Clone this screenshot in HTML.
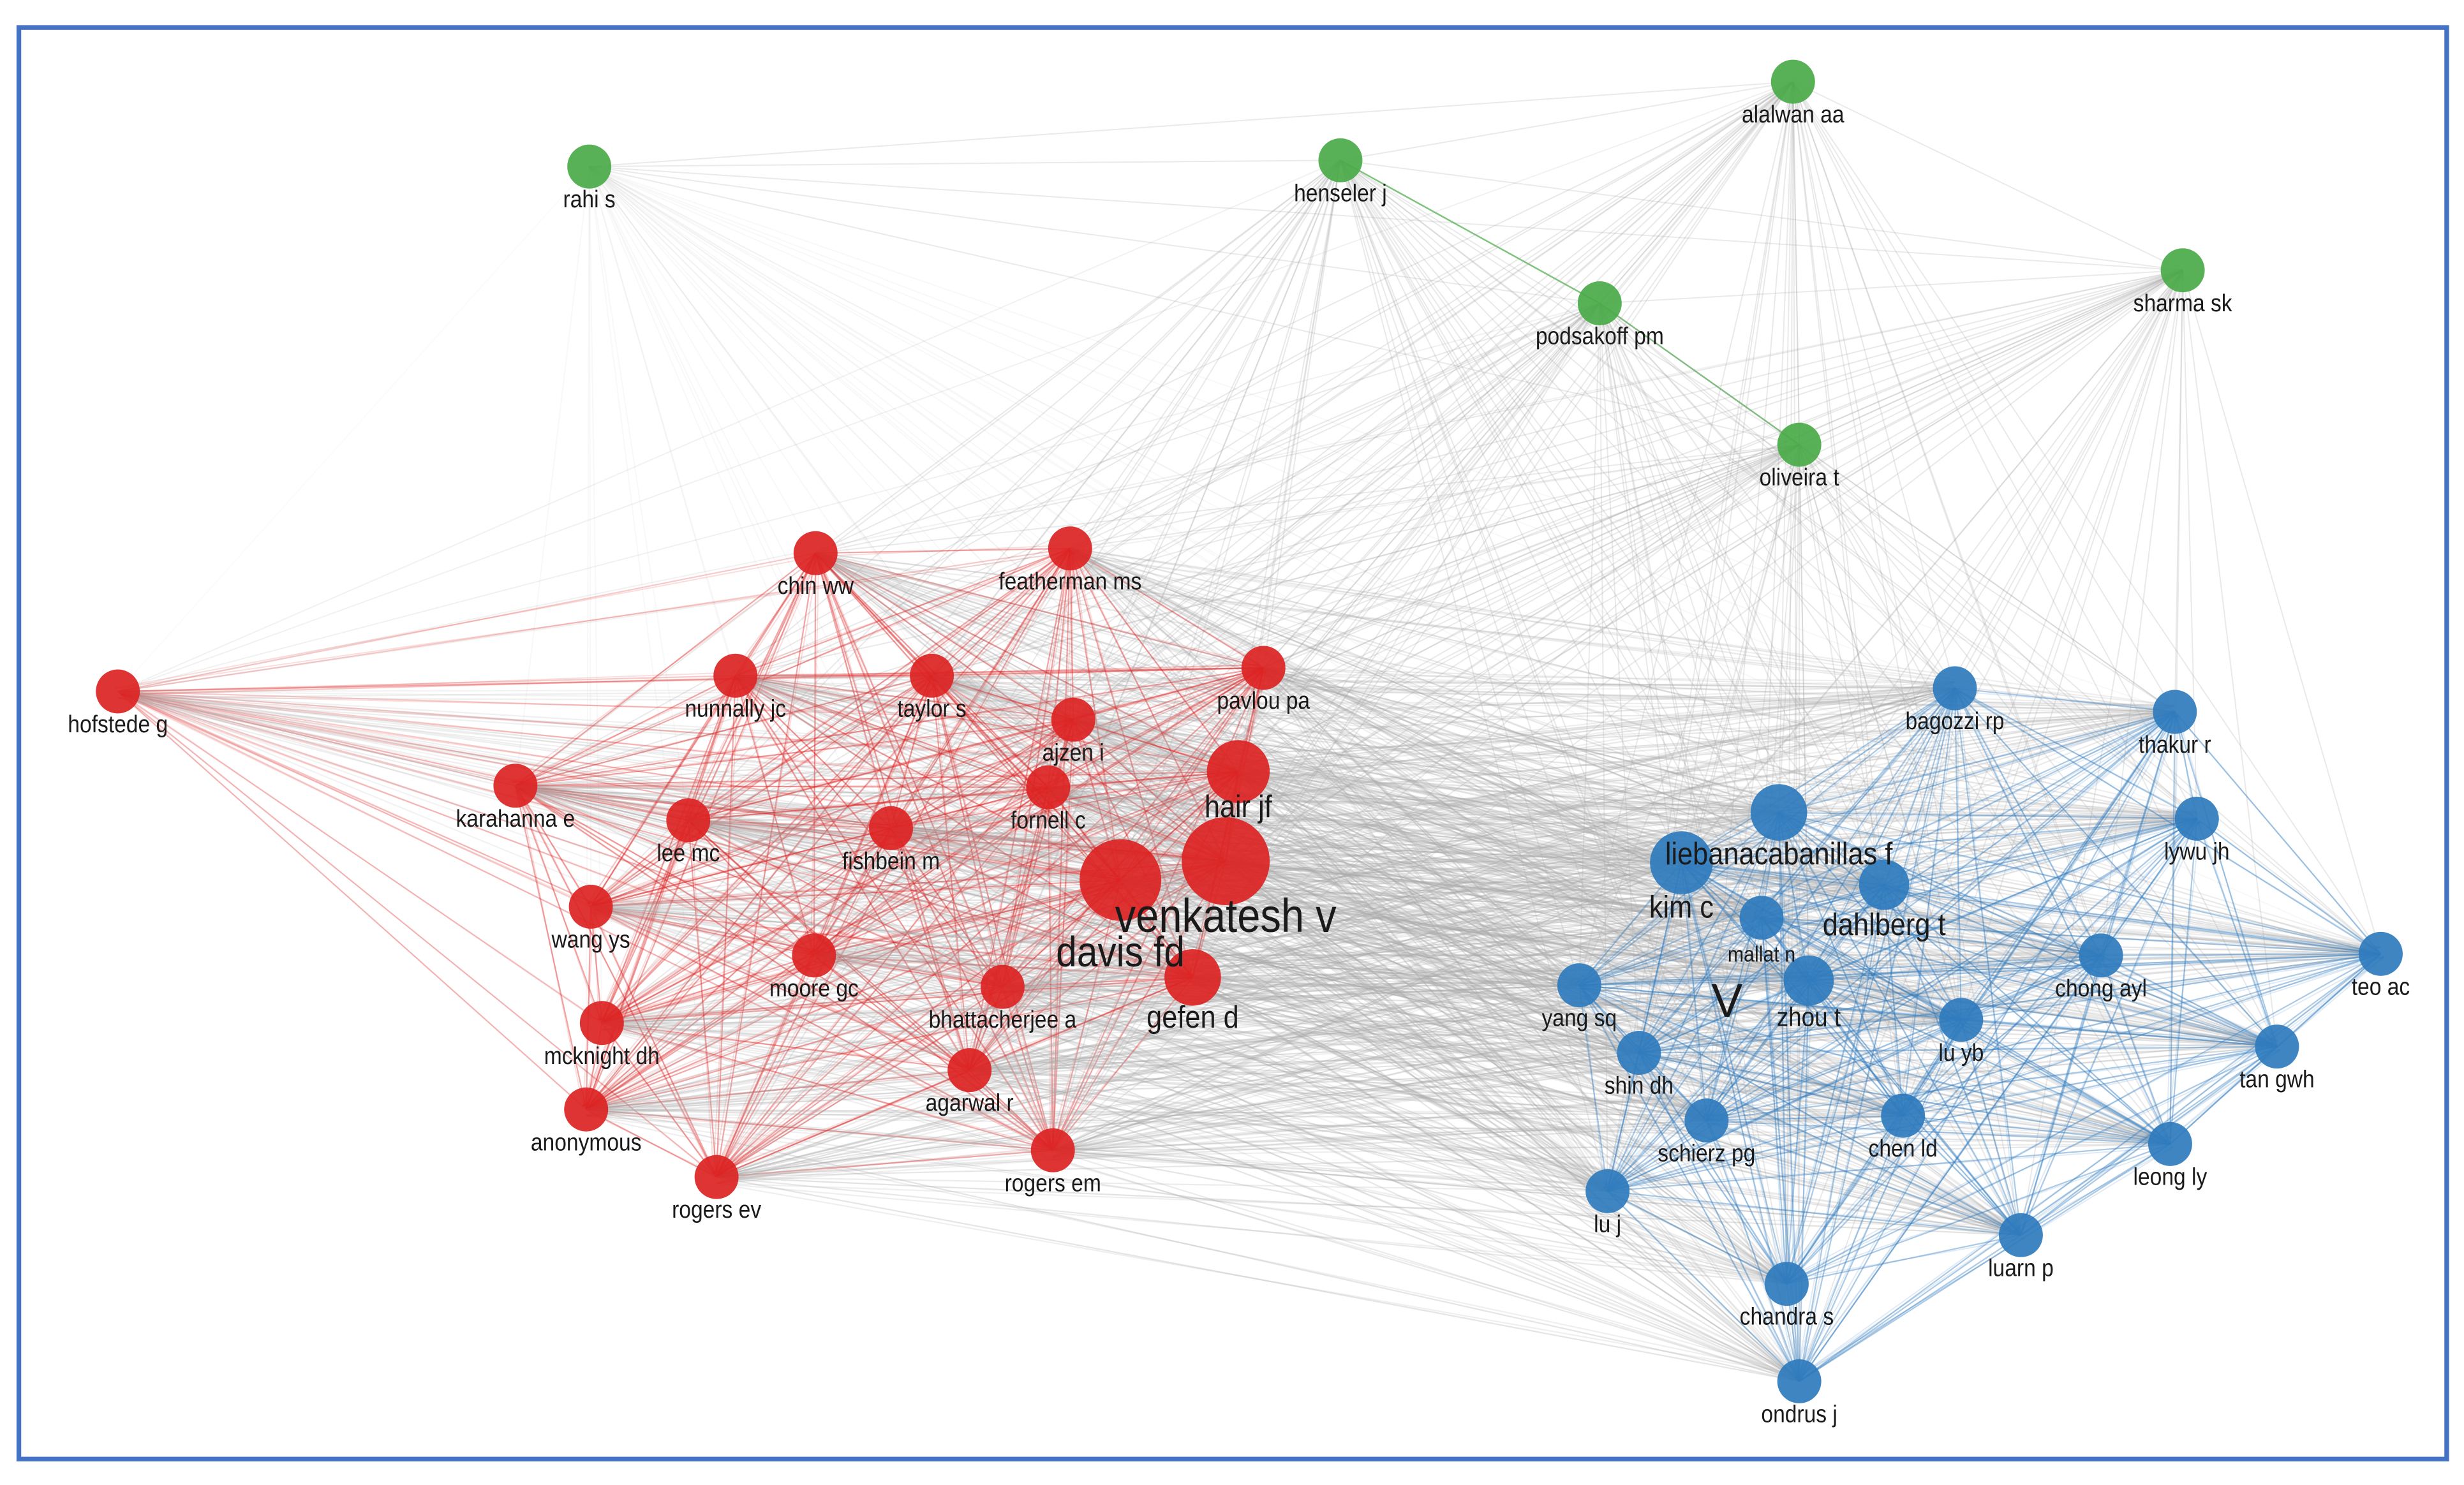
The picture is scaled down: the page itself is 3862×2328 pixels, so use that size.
<!DOCTYPE html>
<html><head><meta charset="utf-8">
<style>
html,body{margin:0;padding:0;background:#fff;width:3862px;height:2328px;overflow:hidden}
svg{display:block}
text{font-family:"Liberation Sans",Arial,sans-serif;fill:#1a1a1a;text-anchor:middle}
</style></head>
<body>
<svg id="s" width="3862" height="2328" viewBox="0 0 1568 945" preserveAspectRatio="none" xmlns="http://www.w3.org/2000/svg">
<rect x="0" y="0" width="1568" height="945" fill="#fff"/>
<g id="edges"></g>
<g id="nodes"></g>
<g id="labels"></g>
<rect x="12" y="17.5" width="1545" height="911" fill="none" stroke="#4472c4" stroke-width="3"/>
</svg>
<script>
var G='#4aaa48',R='#dc2323',B='#2f7bbd';
var N=[
['rahi s',375,106,14,'g'],['henseler j',853,102,14,'g'],['alalwan aa',1141,52,14,'g'],['podsakoff pm',1018,193,14,'g'],['sharma sk',1389,172,14,'g'],['oliveira t',1145,283,14,'g'],
['chin ww',519,352,14,'r'],['featherman ms',681,349,14,'r'],['hofstede g',75,440,14,'r'],['nunnally jc',468,430,14,'r'],['taylor s',593,430,14,'r'],['pavlou pa',804,425,14,'r'],['ajzen i',683,458,14,'r'],['karahanna e',328,500,14,'r'],['fornell c',667,501,14,'r'],['hair jf',788,491,20,'r',20,520],['lee mc',438,522,14,'r'],['fishbein m',567,527,14,'r'],['venkatesh v',780,548,28,'r',30,593],['davis fd',713,560,26,'r',27,615],['wang ys',376,577,14,'r'],['moore gc',518,608,14,'r'],['bhattacherjee a',638,628,14,'r'],['gefen d',759,622,18,'r',20,654],['mcknight dh',383,651,14,'r'],['agarwal r',617,681,14,'r'],['anonymous',373,706,14,'r'],['rogers ev',456,749,14,'r'],['rogers em',670,732,14,'r'],
['bagozzi rp',1244,438,14,'b'],['thakur r',1384,453,14,'b'],['liebanacabanillas f',1132,517,18,'b',20,550],['lywu jh',1398,521,14,'b'],['kim c',1070,549,20,'b',20,584],['dahlberg t',1199,563,16,'b',20,595],['mallat n',1121,584,14,'b',14,612],['chong ayl',1337,608,14,'b'],['teo ac',1515,607,14,'b'],['yang sq',1005,627,14,'b'],['zhou t',1151,624,16,'b',17,653],['lu yb',1248,649,14,'b'],['shin dh',1043,670,14,'b'],['tan gwh',1449,666,14,'b'],['schierz pg',1086,713,14,'b'],['chen ld',1211,710,14,'b'],['leong ly',1381,728,14,'b'],['lu j',1023,758,14,'b'],['luarn p',1286,786,14,'b'],['chandra s',1137,817,14,'b'],['ondrus j',1145,879,14,'b']
];
var ns='http://www.w3.org/2000/svg';
function el(t,a,p){var e=document.createElementNS(ns,t);for(var k in a)e.setAttribute(k,a[k]);p.appendChild(e);return e;}
var E=document.getElementById('edges'),ND=document.getElementById('nodes'),L=document.getElementById('labels');
var seed=7;function rnd(){seed=(seed*16807)%2147483647;return seed/2147483647;}
for(var i=0;i<N.length;i++)for(var j=i+1;j<N.length;j++){
 var a=N[i],b=N[j],c,o,w=0.8;
 if(a[4]=='r'&&b[4]=='r'){c=R;o=0.4;w=0.9;}
 else if(a[4]=='b'&&b[4]=='b'){c=B;o=0.4;w=0.9;}
 else if(a[4]=='g'&&b[4]=='g'){ if((a[0]=='henseler j'&&b[0]=='podsakoff pm')||(a[0]=='podsakoff pm'&&b[0]=='oliveira t')){c=G;o=0.7;w=1;} else {c='#aaa';o=0.25;} }
 else if(a[4]=='g'||b[4]=='g'){c='#999';o=(a[0]=='rahi s'||b[0]=='rahi s')?0.07:0.22;}
 else {c='#a8a8a8';o=0.22+rnd()*0.12;w=0.9;}
 if(a[0]=='hofstede g'||b[0]=='hofstede g')o*=0.6;
 el('line',{x1:a[1],y1:a[2],x2:b[1],y2:b[2],stroke:c,'stroke-opacity':o,'stroke-width':w},E);
 if(a[4]!=b[4]&&a[4]!='g'&&b[4]!='g'&&rnd()<0.6){el('line',{x1:a[1],y1:a[2]+4,x2:b[1],y2:b[2]-4,stroke:'#b0b0b0','stroke-opacity':0.2,'stroke-width':0.9},E);}
 if(a[4]==b[4]&&a[4]!='g'){el('line',{x1:a[1]+2,y1:a[2]+2,x2:b[1]-2,y2:b[2]-2,stroke:c,'stroke-opacity':0.15,'stroke-width':0.8},E);}
}
N.forEach(function(n){
 var col=n[4]=='g'?G:n[4]=='r'?R:B;
 el('circle',{cx:n[1],cy:n[2],r:n[3],fill:col,'fill-opacity':0.92},ND);
 var fs=n[5]||15.5, y=n[6]||(n[2]+n[3]+12);
 var t=el('text',{x:n[1],y:y,'font-size':fs,transform:'translate('+n[1]+' '+y+') scale(0.88 1) translate('+(-n[1])+' '+(-y)+')'},L);
 t.textContent=n[0];
});
var v=el('text',{x:1099,y:647,'font-size':30},L);v.textContent='V';
</script>
</body></html>
